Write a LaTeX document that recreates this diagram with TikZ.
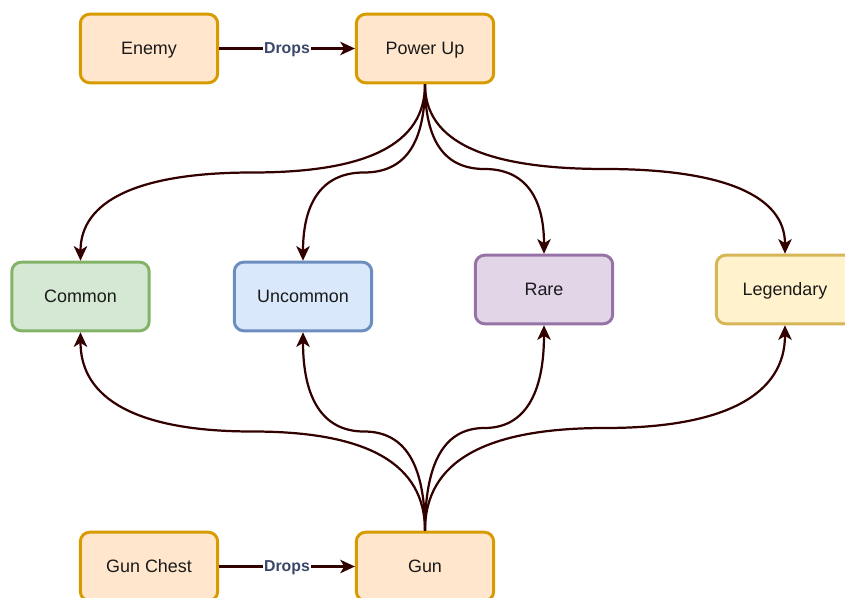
\documentclass[tikz,border=0pt]{standalone}
\usepackage{fontspec}
\setmainfont{Liberation Sans}
\usetikzlibrary{arrows.meta}

\definecolor{laranjaF}{HTML}{FFE6CC}
\definecolor{laranjaB}{HTML}{D79B00}
\definecolor{verdeF}{HTML}{D5E8D4}
\definecolor{verdeB}{HTML}{82B366}
\definecolor{azulF}{HTML}{DAE8FC}
\definecolor{azulB}{HTML}{6C8EBF}
\definecolor{roxoF}{HTML}{E1D5E7}
\definecolor{roxoB}{HTML}{9673A6}
\definecolor{amareloF}{HTML}{FFF2CC}
\definecolor{amareloB}{HTML}{D6B656}
\definecolor{setacor}{HTML}{330000}
\definecolor{rotulocor}{HTML}{3B4769}
\definecolor{textocor}{HTML}{1A1A1A}

\begin{document}
\begin{tikzpicture}[x=0.03cm, y=-0.03cm,
	caixa/.style={rounded corners=8pt, line width=2.5pt, minimum width=4.12cm, minimum height=2.06cm, text height=1.24em, text depth=0.18em, font=\fontsize{15.3}{18}\selectfont, text=textocor},
	seta/.style={line width=1.9pt, draw=setacor, -{Stealth[length=12.5pt, width=11.5pt, inset=3.5pt]}},
	rotulo/.style={fill=white, inner sep=1pt, text height=0.95em, text depth=0.1em, font=\bfseries\fontsize{13.5}{16}\selectfont, text=rotulocor}]

	\useasboundingbox (0,0) rectangle (845,598);

	% Fontes de itens
	\node[caixa, fill=laranjaF, draw=laranjaB] (enemy) at (149,48.5) {Enemy};
	\node[caixa, fill=laranjaF, draw=laranjaB] (pu) at (425,48.5) {Power Up};
	\node[caixa, fill=laranjaF, draw=laranjaB] (chest) at (149,566.5) {Gun Chest};
	\node[caixa, fill=laranjaF, draw=laranjaB] (gun) at (425,566.5) {Gun};

	% Raridades
	\node[caixa, fill=verdeF, draw=verdeB] (common) at (80.5,296.5) {Common};
	\node[caixa, fill=azulF, draw=azulB] (uncommon) at (303,296.5) {Uncommon};
	\node[caixa, fill=roxoF, draw=roxoB] (rare) at (544,289.5) {Rare};
	\node[caixa, fill=amareloF, draw=amareloB] (legend) at (785,289.5) {Legendary};

	% Drops
	\draw[seta] (enemy) -- node[rotulo] {Drops} (pu);
	\draw[seta] (chest) -- node[rotulo] {Drops} (gun);

	% Power Up para as raridades
	\draw[seta] (pu.south) .. controls +(0,59.7) and +(115,0) .. (252.5,172.5)
		.. controls +(-115,0) and +(0,-59.7) .. (common.north);
	\draw[seta] (pu.south) .. controls +(0,59.7) and +(40.7,0) .. (364,172.5)
		.. controls +(-40.7,0) and +(0,-59.7) .. (uncommon.north);
	\draw[seta] (pu.south) .. controls +(0,57.3) and +(-39.7,0) .. (484.5,169)
		.. controls +(39.7,0) and +(0,-57.3) .. (rare.north);
	\draw[seta] (pu.south) .. controls +(0,57.3) and +(-120,0) .. (605,169)
		.. controls +(120,0) and +(0,-57.3) .. (legend.north);

	% Gun para as raridades
	\draw[seta] (gun.north) .. controls +(0,-67) and +(115,0) .. (252.5,431.5)
		.. controls +(-115,0) and +(0,67) .. (common.south);
	\draw[seta] (gun.north) .. controls +(0,-67) and +(40.7,0) .. (364,431.5)
		.. controls +(-40.7,0) and +(0,67) .. (uncommon.south);
	\draw[seta] (gun.north) .. controls +(0,-69.3) and +(-39.7,0) .. (484.5,428)
		.. controls +(39.7,0) and +(0,69.3) .. (rare.south);
	\draw[seta] (gun.north) .. controls +(0,-69.3) and +(-120,0) .. (605,428)
		.. controls +(120,0) and +(0,69.3) .. (legend.south);

\end{tikzpicture}
\end{document}
